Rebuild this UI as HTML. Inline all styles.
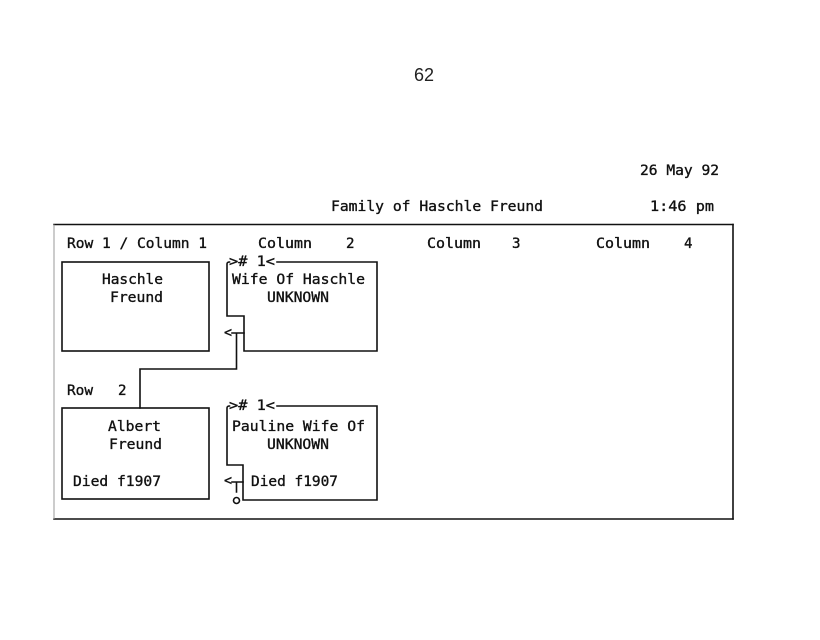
<!DOCTYPE html>
<html>
<head>
<meta charset="utf-8">
<style>
  html, body { margin: 0; padding: 0; background: #fff; }
  body { width: 820px; height: 640px; overflow: hidden; }
  svg { display: block; }
  .t { font-family: "DejaVu Sans Mono", "Liberation Mono", monospace; font-size: 14px; fill: #111; stroke: #111; stroke-width: 0.35px; white-space: pre; }
  .ln { fill: none; stroke: #111; stroke-width: 1.6; stroke-linecap: square; }
</style>
</head>
<body>
<svg width="820" height="640" viewBox="0 0 820 640" xmlns="http://www.w3.org/2000/svg">
  <rect x="0" y="0" width="820" height="640" fill="#fff"/>

  <!-- page number -->
  <text x="414" y="81" font-family="Liberation Sans, sans-serif" font-size="18" fill="#222">62</text>

  <!-- header -->
  <text class="t" x="640" y="175" textLength="79" lengthAdjust="spacingAndGlyphs">26 May 92</text>
  <text class="t" x="331" y="211" textLength="212" lengthAdjust="spacingAndGlyphs">Family of Haschle Freund</text>
  <text class="t" x="650" y="211" textLength="64" lengthAdjust="spacingAndGlyphs">1:46 pm</text>

  <!-- outer frame -->
  <line x1="54" y1="224.5" x2="733" y2="224.5" class="ln"/>
  <line x1="733" y1="224.5" x2="733" y2="519" class="ln"/>
  <line x1="54" y1="519" x2="733" y2="519" class="ln"/>
  <line x1="54" y1="224.5" x2="54" y2="519" stroke="#999" stroke-width="1"/>

  <!-- column headers -->
  <text class="t" x="67" y="248" textLength="140" lengthAdjust="spacingAndGlyphs">Row 1 / Column 1</text>
  <text class="t" x="258" y="248" textLength="54" lengthAdjust="spacingAndGlyphs">Column</text>
  <text class="t" x="346" y="248" textLength="8.5" lengthAdjust="spacingAndGlyphs">2</text>
  <text class="t" x="427" y="248" textLength="54" lengthAdjust="spacingAndGlyphs">Column</text>
  <text class="t" x="512" y="248" textLength="8.5" lengthAdjust="spacingAndGlyphs">3</text>
  <text class="t" x="596" y="248" textLength="54" lengthAdjust="spacingAndGlyphs">Column</text>
  <text class="t" x="684" y="248" textLength="8.5" lengthAdjust="spacingAndGlyphs">4</text>

  <text class="t" x="67" y="395" textLength="26" lengthAdjust="spacingAndGlyphs">Row</text>
  <text class="t" x="118" y="395" textLength="8.5" lengthAdjust="spacingAndGlyphs">2</text>

  <!-- Box 1 Haschle -->
  <rect x="62" y="262" width="147" height="89" class="ln"/>
  <text class="t" x="102" y="284" textLength="61" lengthAdjust="spacingAndGlyphs">Haschle</text>
  <text class="t" x="110" y="302" textLength="53" lengthAdjust="spacingAndGlyphs">Freund</text>

  <!-- Box 2 Wife of Haschle -->
  <path class="ln" d="M277,262 L377,262 L377,351 L244,351 L244,316 L227,316 L227,264 Q227,262 229.5,262"/>
  <text class="t" x="229" y="266" textLength="46" lengthAdjust="spacingAndGlyphs">&gt;# 1&lt;</text>
  <text class="t" x="232" y="284" textLength="133" lengthAdjust="spacingAndGlyphs">Wife Of Haschle</text>
  <text class="t" x="267" y="302" textLength="62" lengthAdjust="spacingAndGlyphs">UNKNOWN</text>

  <!-- connector from box 2 to box 3 -->
  <text class="t" x="224" y="337" textLength="8" lengthAdjust="spacingAndGlyphs">&lt;</text>
  <path class="ln" d="M232,333 L244,333 M236.5,333 L236.5,369 L140,369 L140,408"/>

  <!-- Box 3 Albert -->
  <rect x="62" y="408" width="147" height="91" class="ln"/>
  <text class="t" x="108" y="431" textLength="53" lengthAdjust="spacingAndGlyphs">Albert</text>
  <text class="t" x="109" y="449" textLength="53" lengthAdjust="spacingAndGlyphs">Freund</text>
  <text class="t" x="73" y="486" textLength="88" lengthAdjust="spacingAndGlyphs">Died f1907</text>

  <!-- Box 4 Pauline -->
  <path class="ln" d="M277,406 L377,406 L377,500 L243,500 L243,465 L227,465 L227,408 Q227,406 229.5,406"/>
  <text class="t" x="229" y="410" textLength="46" lengthAdjust="spacingAndGlyphs">&gt;# 1&lt;</text>
  <text class="t" x="232" y="431" textLength="133" lengthAdjust="spacingAndGlyphs">Pauline Wife Of</text>
  <text class="t" x="267" y="449" textLength="62" lengthAdjust="spacingAndGlyphs">UNKNOWN</text>
  <text class="t" x="251" y="486" textLength="87" lengthAdjust="spacingAndGlyphs">Died f1907</text>

  <!-- T and o marker -->
  <text class="t" x="224" y="485" textLength="8" lengthAdjust="spacingAndGlyphs">&lt;</text>
  <path class="ln" d="M232,482 L243,482 M236.5,482 L236.5,492"/>
  <circle cx="236.5" cy="500.5" r="3" fill="none" stroke="#111" stroke-width="1.6"/>
</svg>
</body>
</html>
